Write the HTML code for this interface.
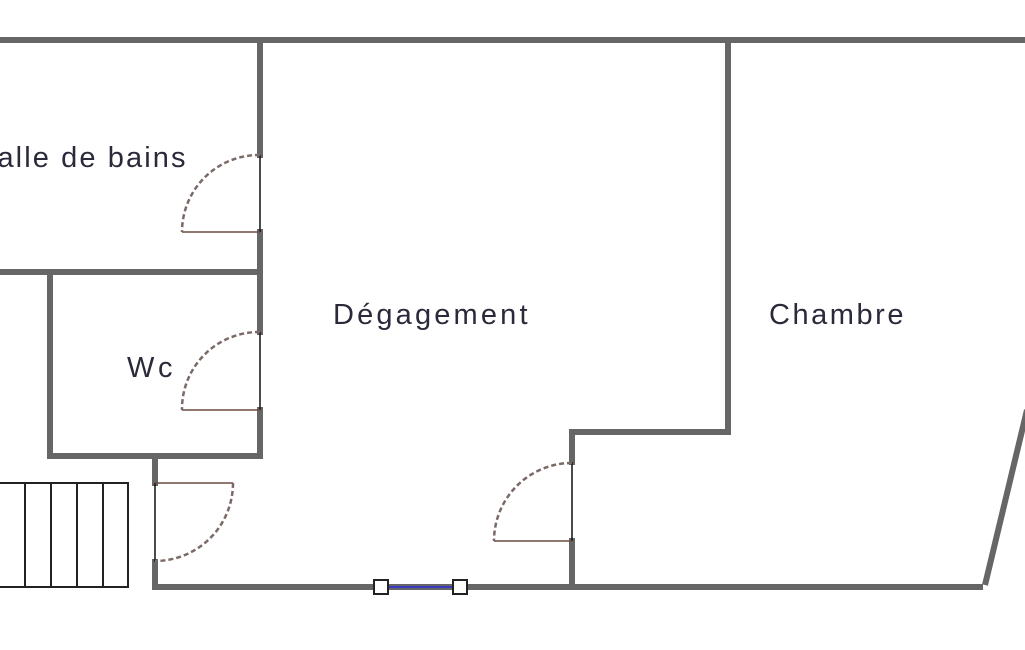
<!DOCTYPE html>
<html><head><meta charset="utf-8"><style>
html,body{margin:0;padding:0;background:#fff;}
svg{display:block;}
text{font-family:"Liberation Sans",sans-serif;font-size:29px;fill:#2a2a3a;letter-spacing:2.5px;}
</style></head><body>
<svg width="1025" height="650" viewBox="0 0 1025 650" xmlns="http://www.w3.org/2000/svg">
<g stroke="#666" stroke-width="6" fill="none" stroke-linecap="square">
<line x1="0" y1="40" x2="1025" y2="40"/>
<line x1="260" y1="40" x2="260" y2="155"/>
<line x1="260" y1="232" x2="260" y2="332"/>
<line x1="260" y1="410" x2="260" y2="456"/>
<line x1="0" y1="272" x2="260" y2="272"/>
<line x1="50" y1="272" x2="50" y2="456"/>
<line x1="50" y1="456" x2="260" y2="456"/>
<line x1="155" y1="456" x2="155" y2="483"/>
<line x1="155" y1="562" x2="155" y2="587"/>
<line x1="155" y1="587" x2="980" y2="587"/>
<line x1="728" y1="40" x2="728" y2="432"/>
<line x1="572" y1="432" x2="728" y2="432"/>
<line x1="572" y1="432" x2="572" y2="462"/>
<line x1="572" y1="541" x2="572" y2="587"/>
<line x1="985" y1="585" x2="1027" y2="410" stroke-linecap="butt"/>
</g>
<g stroke="#111" stroke-width="1.5">
<line x1="260" y1="155" x2="260" y2="232"/>
<line x1="260" y1="332" x2="260" y2="410"/>
<line x1="155" y1="483" x2="155" y2="562"/>
<line x1="572" y1="462" x2="572" y2="541"/>
</g>
<g stroke="#6b4a40" stroke-width="1.5" fill="none">
<line x1="182" y1="232" x2="260" y2="232"/>
<line x1="182" y1="410" x2="260" y2="410"/>
<line x1="155" y1="483" x2="233" y2="483"/>
<line x1="494" y1="541" x2="572" y2="541"/>
</g>
<g stroke="#7a6a66" stroke-width="2.5" fill="none" stroke-dasharray="5,3">
<path d="M260 155 A77 77 0 0 0 182 232"/>
<path d="M260 332 A77 77 0 0 0 182 410"/>
<path d="M233 483 A78 78 0 0 1 155 561"/>
<path d="M572 463 A78 78 0 0 0 494 541"/>
</g>
<g stroke="#222" stroke-width="2" fill="none">
<rect x="-2" y="483" width="130" height="104"/>
<line x1="25" y1="483" x2="25" y2="587"/>
<line x1="51" y1="483" x2="51" y2="587"/>
<line x1="77" y1="483" x2="77" y2="587"/>
<line x1="103" y1="483" x2="103" y2="587"/>
</g>
<line x1="388" y1="587" x2="453" y2="587" stroke="#3a3ac0" stroke-width="2"/>
<rect x="374" y="580" width="14" height="14" fill="#fff" stroke="#222" stroke-width="2"/>
<rect x="453" y="580" width="14" height="14" fill="#fff" stroke="#222" stroke-width="2"/>
<text x="-24" y="167" textLength="212" lengthAdjust="spacing">Salle de bains</text>
<text x="127" y="377" textLength="48" lengthAdjust="spacing">Wc</text>
<text x="333" y="324" textLength="197" lengthAdjust="spacing">Dégagement</text>
<text x="769" y="324" textLength="137" lengthAdjust="spacing">Chambre</text>
</svg>
</body></html>
